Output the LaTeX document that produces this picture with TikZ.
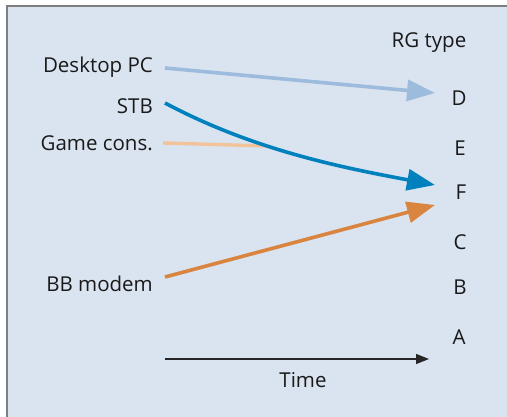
\documentclass[tikz,border=0pt]{standalone}
\usepackage{fontspec}
\setmainfont{Open Sans}
\usetikzlibrary{arrows.meta}
\definecolor{bgc}{HTML}{DAE4F0}
\definecolor{framec}{HTML}{7F7F7F}
\definecolor{lblue}{HTML}{9DBBDC}
\definecolor{dblue}{HTML}{0080BD}
\definecolor{lorange}{HTML}{F2C39A}
\definecolor{dorange}{HTML}{D98540}
\tikzset{
  lbl/.style={font=\fontsize{20.5}{24}\selectfont, text=black!90, inner sep=0pt},
  src/.style={lbl, anchor=east},
  dst/.style={lbl, anchor=center},
  bigarrow/.style={line width=3.6pt, -{Triangle[length=28pt,width=21pt]}},
  timearrow/.style={line width=1.2pt, -{Triangle[length=13pt,width=10pt]}}
}
\begin{document}
\begin{tikzpicture}[x=1pt,y=1pt]
\useasboundingbox (0,0) rectangle (507,-417);
\fill[bgc] (7,-6) rectangle (507,-417);
\draw[framec, line width=1.5pt] (507,-6) -- (7,-6) -- (7,-417);
% labels
\node[dst] (rg) at (429,-43) {RG type};
\node[src] (pc) at (153,-67) {Desktop PC};
\node[src] (stb) at (153,-106) {STB};
\node[src] (gc) at (153,-143) {Game cons.};
\node[src] (bb) at (153,-284) {BB modem};
\node[dst] (D) at (459,-98) {D};
\node[dst] (E) at (460,-148) {E};
\node[dst] (F) at (461,-192) {F};
\node[dst] (C) at (460,-242) {C};
\node[dst] (B) at (460,-287) {B};
\node[dst] (A) at (459,-337) {A};
\node[dst] (time) at (303,-380) {Time};
% connector ends
\coordinate (pcS) at (165,-68);
\coordinate (dT) at (435,-93);
\coordinate (stbS) at (165,-103);
\coordinate (fT1) at (435,-185);
\coordinate (gcS) at (163,-143);
\coordinate (gcE) at (268,-146);
\coordinate (bbS) at (165,-277);
\coordinate (fT2) at (435,-205);
\coordinate (tS) at (165,-359);
\coordinate (tE) at (429,-359);
% connectors
\draw[lblue, bigarrow] (pcS) -- (dT);
\draw[lorange, line width=3.4pt] (gcS) -- (gcE);
\draw[dblue, bigarrow] (stbS) .. controls (255,-151) and (345,-168) .. (fT1);
\draw[dorange, bigarrow] (bbS) -- (fT2);
\draw[black!85, timearrow] (tS) -- (tE);
\end{tikzpicture}
\end{document}
